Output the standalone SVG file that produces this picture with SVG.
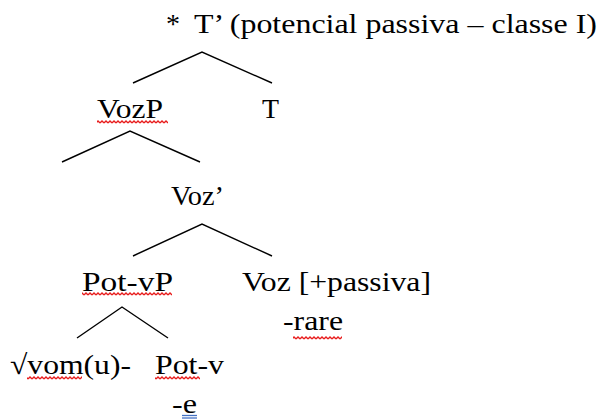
<svg xmlns="http://www.w3.org/2000/svg" width="600" height="419" viewBox="0 0 600 419">
<style>
  text { font-family: "Liberation Serif", "Times New Roman", "DejaVu Serif", serif; font-size: 28px; fill: #000; }
  .edge { fill: none; stroke: #000; stroke-width: 1.4; }
  .spell { fill: url(#wave); }
  .blue { stroke: #4472c4; stroke-width: 1.3; }
</style>
<defs>
  <pattern id="wave" width="4" height="4" patternUnits="userSpaceOnUse">
    <path d="M0,3 L2,1 L4,3" fill="none" stroke="#e81c1c" stroke-width="1.3"/>
  </pattern>
</defs>
<rect width="600" height="419" fill="#fff"/>
<g id="connectors">
  <polyline class="edge" points="133,83 202,52 272,83"/>
  <polyline class="edge" points="62,162 130,131 200,162"/>
  <polyline class="edge" points="133,256 202,224 272,256"/>
  <polyline class="edge" points="77,338 122,307 168,338"/>
</g>
<g id="node-Tbar">
  <text x="166" y="33" font-size="24">*</text>
  <text x="194" y="33" textLength="403" lengthAdjust="spacingAndGlyphs">T’ (potencial passiva – classe I)</text>
</g>
<g id="node-VozP">
  <text x="97" y="118" textLength="66" lengthAdjust="spacingAndGlyphs">VozP</text>
  <rect class="spell" x="97" y="120" width="71" height="4"/>
</g>
<g id="node-T">
  <text x="262" y="118" textLength="17" lengthAdjust="spacingAndGlyphs">T</text>
</g>
<g id="node-Vozbar">
  <text x="171" y="205" textLength="53" lengthAdjust="spacingAndGlyphs">Voz’</text>
</g>
<g id="node-PotvP">
  <text x="82" y="291" textLength="91" lengthAdjust="spacingAndGlyphs">Pot-vP</text>
  <rect class="spell" x="82" y="292" width="90" height="4"/>
</g>
<g id="node-Voz">
  <text x="242" y="291" textLength="189" lengthAdjust="spacingAndGlyphs">Voz [+passiva]</text>
  <text x="283" y="330" textLength="60" lengthAdjust="spacingAndGlyphs">-rare</text>
  <rect class="spell" x="293" y="336" width="49" height="4"/>
</g>
<g id="node-root">
  <text x="10" y="374" textLength="121" lengthAdjust="spacingAndGlyphs">√vom(u)-</text>
  <rect class="spell" x="27" y="376" width="55" height="4"/>
</g>
<g id="node-Potv">
  <text x="155" y="374" textLength="69" lengthAdjust="spacingAndGlyphs">Pot-v</text>
  <rect class="spell" x="155" y="376" width="45" height="4"/>
  <text x="172" y="413" textLength="25" lengthAdjust="spacingAndGlyphs">-e</text>
  <line class="blue" x1="182" y1="415.5" x2="197" y2="415.5"/>
  <line class="blue" x1="182" y1="418" x2="197" y2="418"/>
</g>
</svg>
